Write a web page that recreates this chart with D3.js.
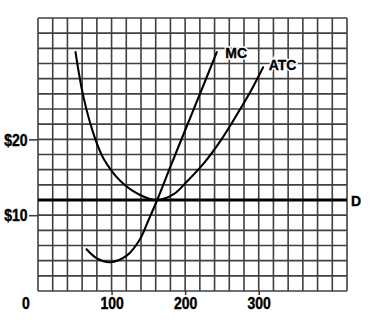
<!DOCTYPE html>
<html>
<head>
<meta charset="utf-8">
<script src="https://cdn.jsdelivr.net/npm/d3@7"></script>
<style>
  html, body { margin: 0; padding: 0; background: #fff; }
  svg { display: block; }
  text { font-family: "Liberation Sans", Arial, sans-serif; font-weight: bold; font-size: 14px; fill: #000; stroke: #000; stroke-width: 0.35px; }
  text.curve-label { paint-order: stroke; }
</style>
</head>
<body>
<svg id="chart" width="371" height="326"></svg>
<script>
// Quantity (x) and price (y) readings for the cost curves
const mcQty   = [66, 80, 98, 121, 139, 150, 162, 180, 200, 216, 243];
const mcCost  = [5.5, 4.3, 3.8, 4.7, 6.9, 9.3, 12, 16.4, 21.2, 25, 31.5];
const atcQty  = [51, 62, 78, 90, 112, 138, 162, 185, 203, 225, 248, 270, 290, 306];
const atcCost = [31.5, 25.5, 20, 17.3, 14.5, 12.7, 12, 12.8, 14.5, 16.8, 19.8, 23.2, 26.5, 29.5];
const demandPrice = 12;

// Axis ticks and labels
const xTicks = [100, 200, 300];
const yTicks = [10, 20];
const yTickLabels = ["$10", "$20"];
const originLabel = "0";
const curveNames = ["MC", "ATC", "D"];

const svg = d3.select("#chart");
const x = d3.scaleLinear().domain([0, 420]).range([38, 347]);
const y = d3.scaleLinear().domain([0, 36]).range([291, 18]);

// Grid: one cell per 20 units of quantity and per $2 of price
const grid = svg.append("g").attr("stroke", "#404040").attr("stroke-width", 1.6);
grid.selectAll("line.v").data(d3.range(0, 421, 20)).join("line")
  .attr("class", "v")
  .attr("x1", d => x(d)).attr("x2", d => x(d))
  .attr("y1", y(0)).attr("y2", y(36));
grid.selectAll("line.h").data(d3.range(0, 37, 2)).join("line")
  .attr("class", "h")
  .attr("x1", x(0)).attr("x2", x(420))
  .attr("y1", d => y(d)).attr("y2", d => y(d));

// Bottom axis: short ticks below the grid
const xAxis = svg.append("g")
  .attr("transform", `translate(0,${y(0)})`)
  .call(d3.axisBottom(x).tickValues(xTicks).tickSize(4).tickFormat(d3.format("d")));
xAxis.select(".domain").remove();
xAxis.selectAll(".tick line").attr("stroke", "#404040").attr("stroke-width", 1.6);
xAxis.selectAll(".tick text")
  .attr("y", null).attr("dy", null)
  .attr("dominant-baseline", "central")
  .attr("transform", "translate(0,12.5) scale(1,1.12)")
  .attr("font-family", null).attr("font-size", null).attr("fill", null);

// Left axis with dollar labels
const yAxis = svg.append("g")
  .attr("transform", `translate(${x(0)},0)`)
  .call(d3.axisLeft(y).tickValues(yTicks).tickSize(9)
    .tickFormat((d, i) => yTickLabels[i]));
yAxis.select(".domain").remove();
yAxis.selectAll(".tick line").attr("stroke", "#404040").attr("stroke-width", 1.6);
yAxis.selectAll(".tick text")
  .attr("x", null).attr("dy", null)
  .attr("text-anchor", "end")
  .attr("dominant-baseline", "central")
  .attr("transform", "translate(-10.5,0.5) scale(1,1.12)")
  .attr("font-family", null).attr("font-size", null).attr("fill", null);

svg.append("text")
  .attr("text-anchor", "middle")
  .attr("dominant-baseline", "central")
  .attr("transform", `translate(${x(0) - 12},${y(0) + 13}) scale(1,1.12)`)
  .text(originLabel);

// Demand line
svg.append("line")
  .attr("x1", x(0)).attr("x2", x(420))
  .attr("y1", y(demandPrice)).attr("y2", y(demandPrice))
  .attr("stroke", "#000").attr("stroke-width", 2.8);

// Cost curves
const line = d3.line()
  .x(d => x(d[0])).y(d => y(d[1]))
  .curve(d3.curveCatmullRom.alpha(0.5));
const mcPts = mcQty.map((q, i) => [q, mcCost[i]]);
const atcPts = atcQty.map((q, i) => [q, atcCost[i]]);

[mcPts, atcPts].forEach(pts => {
  svg.append("path")
    .attr("d", line(pts))
    .attr("fill", "none")
    .attr("stroke", "#000")
    .attr("stroke-width", 2.1)
    .attr("stroke-linecap", "round");
});

// Curve labels, with a white halo over the grid
function label(txt, px, py) {
  const g = svg.append("g").attr("transform", `translate(${px},${py}) scale(1,1.1)`);
  g.append("text")
    .attr("dominant-baseline", "central")
    .style("stroke", "#fff").style("stroke-width", "3px")
    .text(txt);
  g.append("text")
    .attr("dominant-baseline", "central")
    .text(txt);
}
const mcEnd = mcPts[mcPts.length - 1];
const atcEnd = atcPts[atcPts.length - 1];
label(curveNames[0], x(mcEnd[0]) + 8.5, y(mcEnd[1]) + 0.5);
label(curveNames[1], x(atcEnd[0]) + 5.5, y(atcEnd[1]) - 2.5);
label(curveNames[2], x(420) + 4, y(demandPrice) + 0.5);
</script>
</body>
</html>
